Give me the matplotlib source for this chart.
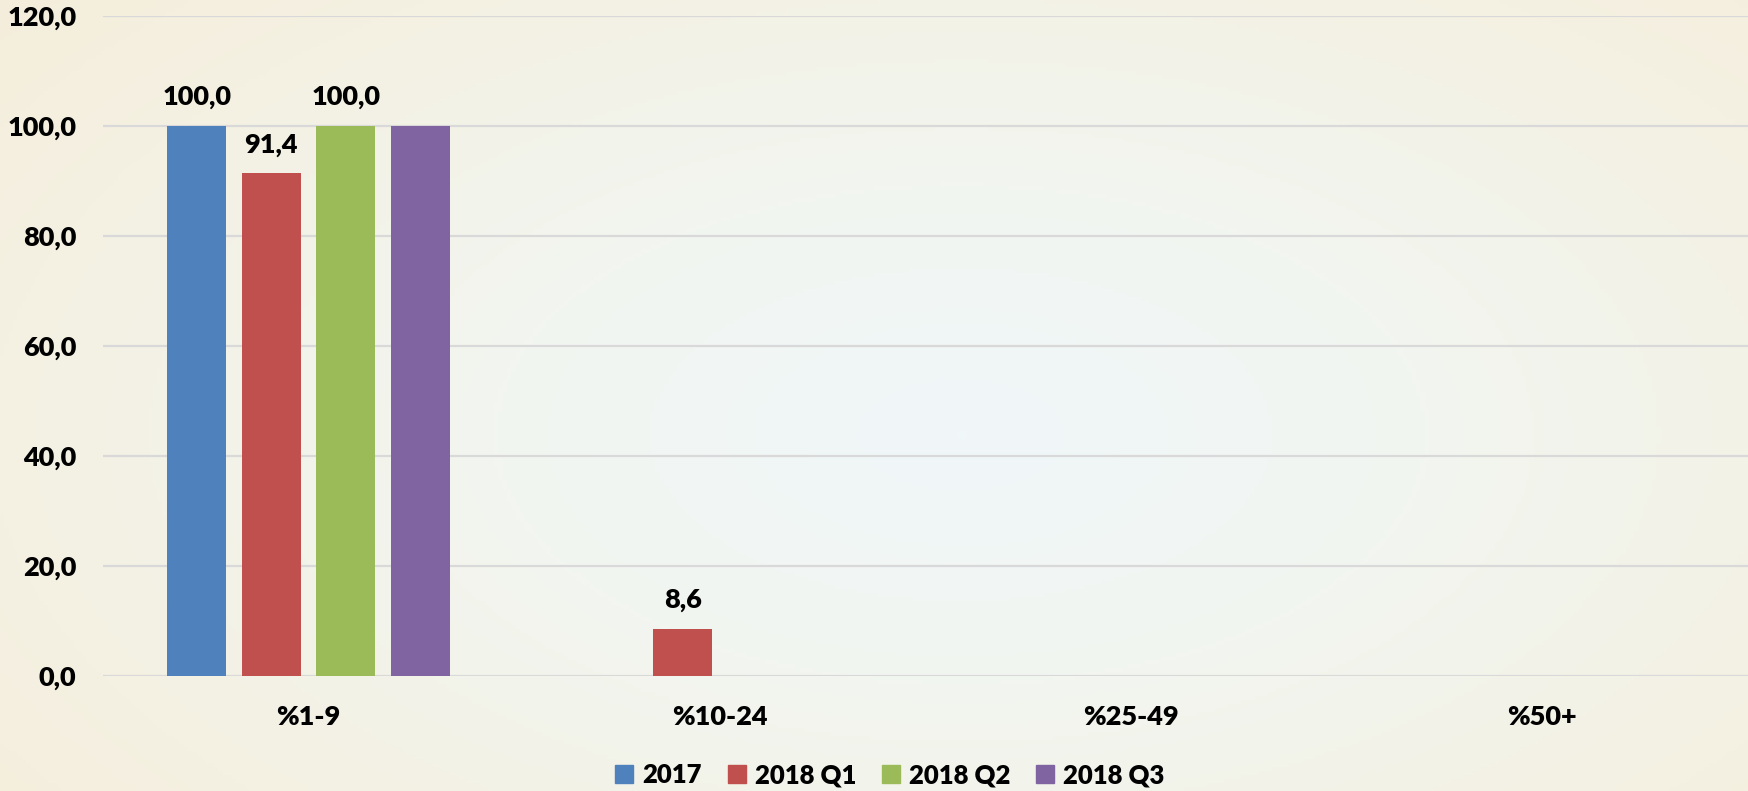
import numpy as np
import matplotlib
matplotlib.use('Agg')
import matplotlib.pyplot as plt
from matplotlib.colors import LinearSegmentedColormap
from matplotlib.patches import Patch

plt.rcParams['font.family'] = ['Lato', 'DejaVu Sans']
plt.rcParams['font.weight'] = 'heavy'
FS = 19.5

categories = ['%1-9', '%10-24', '%25-49', '%50+']
series_names = ['2017', '2018 Q1', '2018 Q2', '2018 Q3']
values_2017 = [100.0, 0.0, 0.0, 0.0]
values_2018q1 = [91.4, 8.6, 0.0, 0.0]
values_2018q2 = [100.0, 0.0, 0.0, 0.0]
values_2018q3 = [100.0, 0.0, 0.0, 0.0]
# which series get value labels in the original
show_labels = [True, True, True, False]

colors = ['#4F81BD', '#C0504D', '#9BBB59', '#8064A2']
all_values = [values_2017, values_2018q1, values_2018q2, values_2018q3]

fig = plt.figure(figsize=(17.48, 7.91), dpi=100)

# soft radial background
bg = fig.add_axes([0, 0, 1, 1], zorder=-10)
yy, xx = np.mgrid[0:1:200j, 0:1:400j]
r = np.sqrt(((xx - 0.55) / 0.8) ** 2 + ((yy - 0.55) / 0.95) ** 2)
cmap = LinearSegmentedColormap.from_list('bg', ['#F0F7F9', '#F2F5F0', '#F4F1E3', '#F4ECD8'])
bg.imshow(r, cmap=cmap, aspect='auto', extent=[0, 1, 0, 1], vmin=0, vmax=1.0)
bg.axis('off')

ax = fig.add_axes([0.0589, 0.1454, 0.9411, 0.8344])
ax.patch.set_alpha(0)

x = np.arange(len(categories))
slot = 0.181
width = 0.1435
for i, (name, vals) in enumerate(zip(series_names, all_values)):
    pos = x + (i - 1.5) * slot
    ax.bar(pos, vals, width, color=colors[i], label=name, zorder=3)
    if show_labels[i]:
        for p, v in zip(pos, vals):
            if v > 0:
                ax.annotate(f'{v:.1f}'.replace('.', ','), (p, v), xytext=(0, 12),
                            textcoords='offset points', ha='center', va='bottom',
                            fontsize=FS, fontweight='heavy', color='black')

ax.set_xlim(-0.5, len(categories) - 0.5)
ax.set_ylim(0, 120)
ax.set_yticks(np.arange(0, 121, 20))
ax.set_yticklabels([f'{t:.1f}'.replace('.', ',') for t in np.arange(0, 121, 20)])
ax.set_xticks(x)
ax.set_xticklabels(categories)
ax.tick_params(axis='both', length=0, labelsize=FS, colors='black')
ax.tick_params(axis='y', pad=19)
ax.tick_params(axis='x', pad=21)
for lab in ax.get_xticklabels() + ax.get_yticklabels():
    lab.set_fontweight('heavy')

ax.grid(axis='y', color='#D9D9D9', linewidth=1.6, zorder=0)
for s in ax.spines.values():
    s.set_visible(False)

handles = [Patch(color=c, label=n) for c, n in zip(colors, series_names)]
fig.legend(handles=handles, loc='center', bbox_to_anchor=(0.509, 0.02),
           ncol=4, frameon=False, handlelength=0.7, handleheight=0.7,
           handletextpad=0.35, columnspacing=1.0, prop={'weight': 'heavy', 'size': 18.5})

fig.savefig('out.png', dpi=100)
